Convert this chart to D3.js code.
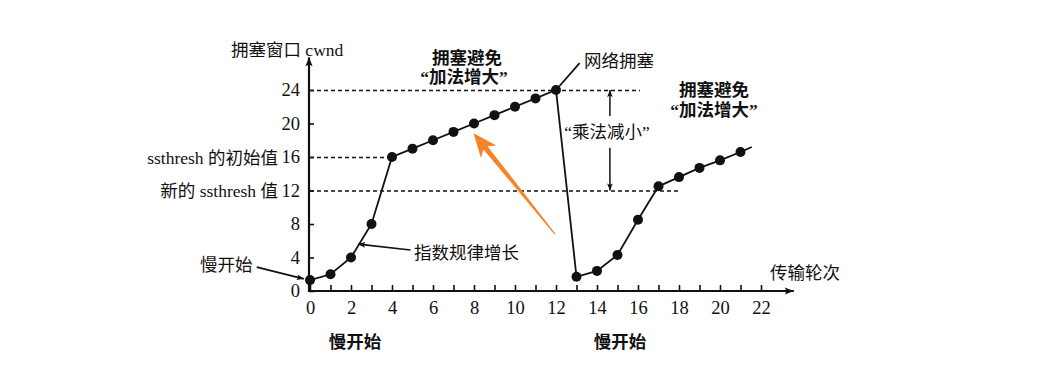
<!DOCTYPE html>
<html><head><meta charset="utf-8">
<script src="https://cdn.jsdelivr.net/npm/d3@7"></script>
<style>
html,body{margin:0;padding:0;background:#fff;}
svg{display:block;}
text{font-family:"Liberation Serif","Noto Sans CJK SC",serif;fill:#111;}
</style></head><body>
<svg id="chart" width="1041" height="369"></svg>
<script>
// ---- data ----
const rounds = [0,1,2,3,4,5,6,7,8,9,10,11,12,13,14,15,16,17,18,19,20,21];
const cwnd   = [1.3,2,4,8,16,17,18,19,20,21,22,23,24,1.7,2.4,4.3,8.5,12.5,13.6,14.7,15.6,16.6];
const yTicks = [0,4,8,12,16,20,24];
const xTicks = d3.range(0,23);
const xTickLabels = [0,2,4,6,8,10,12,14,16,18,20,22];
const thresholds = [{v:24,to:16.1},{v:16,to:4},{v:12,to:18}];

const svg = d3.select("#chart");
const x = d3.scaleLinear().domain([0,22]).range([310,761]);
const y = d3.scaleLinear().domain([0,24]).range([291,90]);
const FS = 17.5;

// defs: arrowheads
const defs = svg.append("defs");
function marker(id, w, h){
  defs.append("marker").attr("id",id).attr("viewBox","0 0 10 10")
    .attr("refX",10).attr("refY",5).attr("markerWidth",w).attr("markerHeight",h)
    .attr("markerUnits","userSpaceOnUse").attr("orient","auto-start-reverse")
    .append("path").attr("d","M0,1L10,5L0,9L2,5Z").attr("fill","#111");
}
marker("ah",12,9);
marker("ahs",10,7);

// dashed threshold lines
svg.append("g").selectAll("line").data(thresholds).join("line")
  .attr("x1",x(0)).attr("x2",d=>x(d.to))
  .attr("y1",d=>y(d.v)+0.5).attr("y2",d=>y(d.v)+0.5)
  .attr("stroke","#111").attr("stroke-width",1.4).attr("stroke-dasharray","4,3");

// y axis
const ya = svg.append("g").attr("transform",`translate(${x(0)-1},0)`)
  .call(d3.axisLeft(y).tickValues(yTicks).tickSizeInner(-5).tickSizeOuter(0).tickPadding(9));
ya.select(".domain").remove();
ya.selectAll(".tick line").attr("stroke","#111").attr("stroke-width",1.6);
ya.selectAll(".tick text").attr("font-size",18.5).attr("fill","#111");

// x axis
const xa = svg.append("g").attr("transform",`translate(0,${y(0)})`)
  .call(d3.axisBottom(x).tickValues(xTicks).tickSizeInner(-6).tickSizeOuter(0).tickPadding(10)
    .tickFormat(d=> xTickLabels.includes(d) ? d : ""));
xa.select(".domain").remove();
xa.selectAll(".tick line").attr("stroke","#111").attr("stroke-width",1.6);
xa.selectAll(".tick text").attr("font-size",18.5).attr("fill","#111");

// axis lines with arrows
svg.append("line").attr("x1",x(0)-1).attr("y1",y(0)+1).attr("x2",x(0)-1).attr("y2",y(27.9))
  .attr("stroke","#111").attr("stroke-width",2.2).attr("marker-end","url(#ah)");
svg.append("line").attr("x1",x(0)-2).attr("y1",y(0)).attr("x2",x(23.6)).attr("y2",y(0))
  .attr("stroke","#111").attr("stroke-width",2.2).attr("marker-end","url(#ah)");

// main line
const pts = rounds.map((r,i)=>({r, v:cwnd[i]}));
const line = d3.line().x(d=>x(d.r)).y(d=>y(d.v));
svg.append("path").datum(pts).attr("d",line).attr("fill","none")
  .attr("stroke","#111").attr("stroke-width",1.8);
// extensions
const ext = [
  [{r:12,v:24},{r:13.15,v:27.2}],
  [{r:21,v:16.6},{r:21.55,v:17.2}]
];
svg.append("g").selectAll("path").data(ext).join("path").attr("d",line)
  .attr("fill","none").attr("stroke","#111").attr("stroke-width",1.8);
svg.append("g").selectAll("circle").data(pts).join("circle")
  .attr("cx",d=>x(d.r)).attr("cy",d=>y(d.v)).attr("r",5).attr("fill","#111");

// double arrow (multiplicative decrease)
const ax = x(14.63);
svg.append("line").attr("x1",ax).attr("x2",ax).attr("y1",y(20.9)).attr("y2",y(24))
  .attr("stroke","#111").attr("stroke-width",1.5).attr("marker-end","url(#ahs)");
svg.append("line").attr("x1",ax).attr("x2",ax).attr("y1",y(17.1)).attr("y2",y(12))
  .attr("stroke","#111").attr("stroke-width",1.5).attr("marker-end","url(#ahs)");

// leader lines
const leaders = [
  [{r:-2.6,v:2.85},{r:-0.3,v:1.45}],
  [{r:4.9,v:4.9},{r:2.35,v:5.6}]
];
svg.append("g").selectAll("path").data(leaders).join("path").attr("d",line)
  .attr("fill","none").attr("stroke","#111").attr("stroke-width",1.6).attr("marker-end","url(#ahs)");

// orange arrow (tapered)
(function(){
  const tip=[x(7.98),y(18.85)], tail=[x(11.95),y(6.8)];
  const dx=tail[0]-tip[0], dy=tail[1]-tip[1], L=Math.hypot(dx,dy);
  const ux=dx/L, uy=dy/L, nx=-uy, ny=ux;
  const hl=24, hw=10, sw=2.6, tw=0.6;
  const b=[tip[0]+ux*hl, tip[1]+uy*hl];
  const b2=[tip[0]+ux*(hl-5), tip[1]+uy*(hl-5)];
  const p=[tip,
    [b[0]+nx*hw,b[1]+ny*hw],
    [b2[0]+nx*sw,b2[1]+ny*sw],
    [tail[0]+nx*tw,tail[1]+ny*tw],
    [tail[0]-nx*tw,tail[1]-ny*tw],
    [b2[0]-nx*sw,b2[1]-ny*sw],
    [b[0]-nx*hw,b[1]-ny*hw]];
  svg.append("path").attr("d","M"+p.map(q=>q.join(",")).join("L")+"Z").attr("fill","#f5832a");
})();

// texts
const labels = [
  {t:"拥塞窗口 cwnd", x:231, y:50, a:"start"},
  {t:"ssthresh 的初始值", x:278, y:158, a:"end"},
  {t:"新的 ssthresh 值", x:278, y:191, a:"end"},
  {t:"慢开始", x:200, y:265, a:"start"},
  {t:"指数规律增长", x:414, y:253, a:"start"},
  {t:"拥塞避免", x:467, y:58, a:"middle", b:true},
  {t:"“加法增大”", x:464, y:77, a:"middle", b:true},
  {t:"网络拥塞", x:584, y:61, a:"start"},
  {t:"“乘法减小”", x:607, y:132, a:"middle"},
  {t:"拥塞避免", x:714, y:90, a:"middle", b:true},
  {t:"“加法增大”", x:714, y:110, a:"middle", b:true},
  {t:"传输轮次", x:770, y:273, a:"start"},
  {t:"慢开始", x:355, y:342, a:"middle", b:true},
  {t:"慢开始", x:620, y:342, a:"middle", b:true}
];
svg.append("g").selectAll("text").data(labels).join("text")
  .attr("x",d=>d.x).attr("y",d=>d.y).attr("dy","0.35em")
  .attr("text-anchor",d=>d.a).attr("font-size",FS)
  .attr("font-weight",d=>d.b?"bold":"normal").text(d=>d.t);
</script></body></html>
